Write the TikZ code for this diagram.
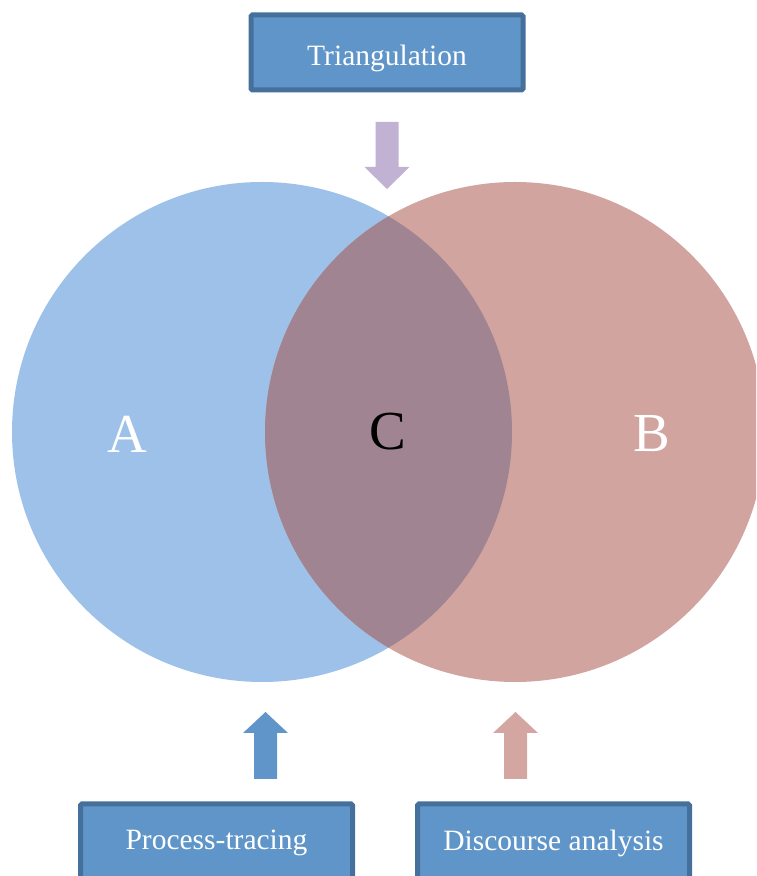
\documentclass[tikz,border=0pt]{standalone}
\usepackage{fontspec}
\setmainfont{Liberation Serif}
\definecolor{cblue}{HTML}{9EC1E9}
\definecolor{cpink}{HTML}{D2A4A0}
\definecolor{cover}{HTML}{A08492}
\definecolor{boxfill}{HTML}{5F95C8}
\definecolor{boxedge}{HTML}{46709C}
\definecolor{apurple}{HTML}{C1B1D3}
\definecolor{ablue}{HTML}{5F95C8}
\definecolor{apink}{HTML}{D4A6A1}
\tikzset{
  methodbox/.style={draw=boxedge, fill=boxfill, line width=5pt, rounded corners=1.5pt,
    minimum width=272pt, minimum height=75pt, inner sep=0pt},
  boxtext/.style={text=white, font=\fontsize{29.5}{32}\selectfont, inner sep=0pt},
  setcircle/.style={circle, minimum size=500pt, inner sep=0pt},
  biglabel/.style={font=\fontsize{55}{60}\selectfont},
}
\begin{document}
\begin{tikzpicture}[x=1pt,y=1pt]
\useasboundingbox (0,0) rectangle (756,876);
\clip (0,0) rectangle (756,876);
% circles
\node[setcircle, fill=cblue] (circA) at (262,444) {};
\node[setcircle, fill=cpink] (circB) at (515,444) {};
\begin{scope}
  \clip (262,444) circle (250);
  \fill[cover] (515,444) circle (250);
\end{scope}
\node[biglabel, text=white] (labA) at (127,442) {A};
\node[biglabel, text=black] (labC) at (388,444) {C};
\node[biglabel, text=white] (labB) at (652,442) {B};
% boxes
\node[methodbox] (tri) at (387,823.5) {};
\node[boxtext] (trilab) at (387,818) {Triangulation};
\node[methodbox, anchor=north] (pt) at (216.5,74.5) {};
\node[boxtext] (ptlab) at (216.5,33) {Process-tracing};
\node[methodbox, anchor=north] (da) at (553.5,74.5) {};
\node[boxtext] (dalab) at (553.5,33) {Discourse analysis};
% arrows
\fill[apurple] (375.5,754) -- (398.5,754) -- (398.5,709) -- (409.5,709) -- (387,687) -- (364.5,709) -- (375.5,709) -- cycle;
\fill[ablue] (254,97) -- (277,97) -- (277,143) -- (288,143) -- (265.5,164) -- (243,143) -- (254,143) -- cycle;
\fill[apink] (504,97) -- (527,97) -- (527,143) -- (538,143) -- (515.5,164) -- (493,143) -- (504,143) -- cycle;
\end{tikzpicture}
\end{document}
